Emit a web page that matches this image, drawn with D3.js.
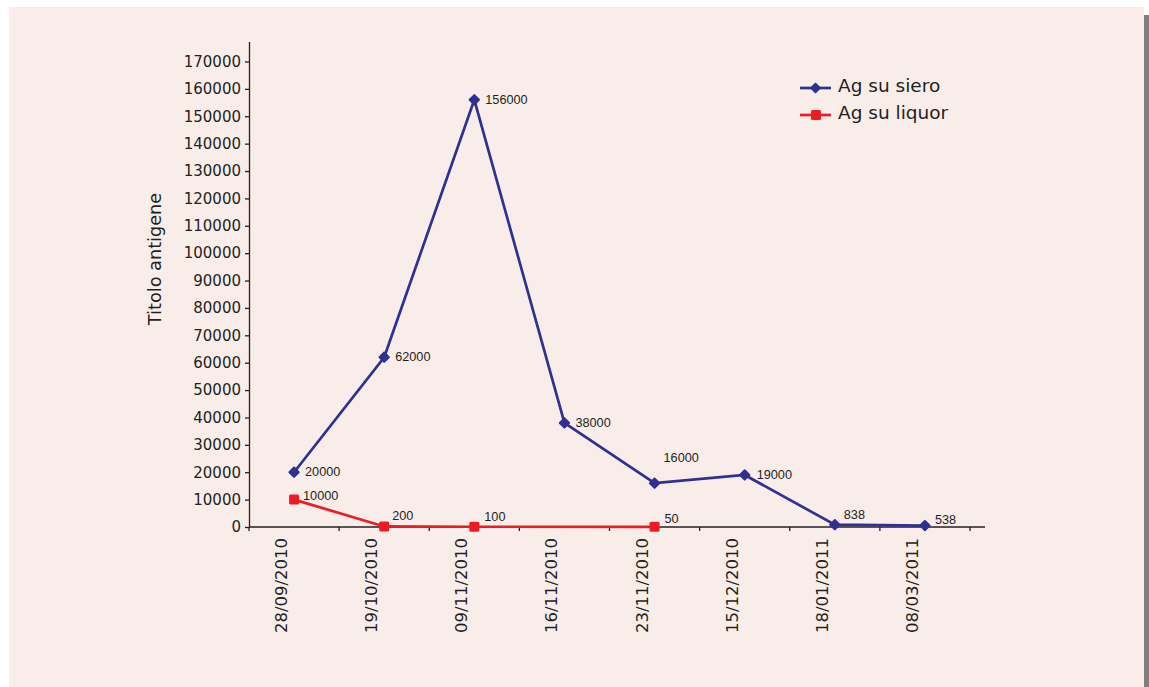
<!DOCTYPE html>
<html><head><meta charset="utf-8">
<script src="https://cdn.jsdelivr.net/npm/d3@7"></script>
<style>body{margin:0;background:#fff;} svg{display:block;}</style>
</head><body>
<svg id="c" width="1149" height="687"></svg>
<script>
const categories = ["28/09/2010","19/10/2010","09/11/2010","16/11/2010","23/11/2010","15/12/2010","18/01/2011","08/03/2011"];
const siero = [20000, 62000, 156000, 38000, 16000, 19000, 838, 538];
const liquor = [10000, 200, 100, null, 50, null, null, null];
const yTicks = [0,10000,20000,30000,40000,50000,60000,70000,80000,90000,100000,110000,120000,130000,140000,150000,160000,170000];
const seriesNames = ["Ag su siero", "Ag su liquor"];
const yTitle = "Titolo antigene";
// label offsets (style only)
const sieroOff = [[11,4],[11,4],[11,4],[11,4],[9,-21],[12,4],[9,-6],[10,-2]];
const liquorOff = [[9,0],[8,-6],[10,-6],null,[10,-4],null,null,null];

const svg = d3.select("#c");
const ink = "#231f20", blue = "#2e3192", red = "#ed1c24";
svg.append("rect").attr("x",9).attr("y",7).attr("width",1135).attr("height",680).attr("fill","#f9edea");
svg.append("rect").attr("x",1144).attr("y",15).attr("width",5).attr("height",672).attr("fill","#7e7f83");

const x = d3.scaleBand().domain(categories).range([249, 970]).padding(0);
const y = d3.scaleLinear().domain([0, 177300]).range([527, 41.5]);
const cx = c => x(c) + x.bandwidth()/2;

// y axis
const ya = svg.append("g").attr("transform","translate(249,0)")
  .call(d3.axisLeft(y).tickValues(yTicks).tickFormat(d3.format("d")).tickSize(4).tickPadding(4).tickSizeOuter(0));
ya.select(".domain").attr("stroke",ink).attr("stroke-width",1.3);
ya.selectAll(".tick line").attr("stroke",ink).attr("stroke-width",1.3);
ya.selectAll(".tick text").attr("fill",ink).style("font-family","DejaVu Sans, Verdana, sans-serif").style("font-size","15px");

// x axis
const xa = svg.append("g");
xa.append("line").attr("x1",249).attr("x2",985).attr("y1",y(0)).attr("y2",y(0)).attr("stroke",ink).attr("stroke-width",1.3);
const bounds = categories.map(c => x(c)).concat([x(categories[categories.length-1]) + x.bandwidth()]);
xa.selectAll("line.t").data(bounds).enter().append("line").attr("class","t")
  .attr("x1",d=>d).attr("x2",d=>d).attr("y1",y(0)).attr("y2",y(0)+4).attr("stroke",ink).attr("stroke-width",1.3);
xa.selectAll("text").data(categories).enter().append("text")
  .attr("transform", c => `translate(${cx(c)-7},538) rotate(-90)`)
  .attr("text-anchor","end").attr("fill",ink)
  .style("font-family","DejaVu Sans, Verdana, sans-serif").style("font-size","16.5px").text(c=>c);

// y title
svg.append("text").attr("transform","translate(161,259) rotate(-90)").attr("text-anchor","middle")
  .attr("fill",ink).style("font-family","DejaVu Sans, Verdana, sans-serif").style("font-size","17.7px").text(yTitle);

// series
const sData = categories.map((c,i)=>({c, v:siero[i], off:sieroOff[i]}));
const lData = categories.map((c,i)=>({c, v:liquor[i], off:liquorOff[i]})).filter(d=>d.v!==null);
const line = d3.line().x(d=>cx(d.c)).y(d=>y(d.v));
svg.append("path").datum(lData).attr("d",line).attr("fill","none").attr("stroke",red).attr("stroke-width",2.7);
svg.append("path").datum(sData).attr("d",line).attr("fill","none").attr("stroke",blue).attr("stroke-width",2.7);

svg.selectAll("rect.lm").data(lData).enter().append("rect").attr("class","lm")
  .attr("x",d=>cx(d.c)-5).attr("y",d=>y(d.v)-5).attr("width",10).attr("height",10).attr("rx",1.5).attr("fill",red);
svg.selectAll("rect.sm").data(sData).enter().append("rect").attr("class","sm")
  .attr("x",-4.3).attr("y",-4.3).attr("width",8.6).attr("height",8.6).attr("rx",1)
  .attr("transform",d=>`translate(${cx(d.c)},${y(d.v)}) rotate(45)`).attr("fill",blue);

const lblFont = "Liberation Sans, Arial, sans-serif";
svg.selectAll("text.sl").data(sData).enter().append("text").attr("class","sl")
  .attr("x",d=>cx(d.c)+d.off[0]).attr("y",d=>y(d.v)+d.off[1]).attr("fill",ink)
  .style("font-family",lblFont).style("font-size","12.7px").text(d=>d.v);
svg.selectAll("text.ll").data(lData).enter().append("text").attr("class","ll")
  .attr("x",d=>cx(d.c)+d.off[0]).attr("y",d=>y(d.v)+d.off[1]).attr("fill",ink)
  .style("font-family",lblFont).style("font-size","12.7px").text(d=>d.v);

// legend
const lg = svg.append("g");
[[blue,88,"d"],[red,115,"s"]].forEach(([col,ly,m],i)=>{
  lg.append("line").attr("x1",800).attr("x2",831).attr("y1",ly).attr("y2",ly).attr("stroke",col).attr("stroke-width",2.7);
  if(m==="d") lg.append("rect").attr("x",-4).attr("y",-4).attr("width",8).attr("height",8).attr("rx",1)
      .attr("transform",`translate(815.5,${ly}) rotate(45)`).attr("fill",col);
  else lg.append("rect").attr("x",811).attr("y",ly-5).attr("width",10).attr("height",10).attr("rx",1.5).attr("fill",col);
  lg.append("text").attr("x",838).attr("y",ly+3.5).attr("fill",ink)
    .style("font-family","DejaVu Sans, Verdana, sans-serif").style("font-size","18.5px").text(seriesNames[i]);
});
</script>
</body></html>
